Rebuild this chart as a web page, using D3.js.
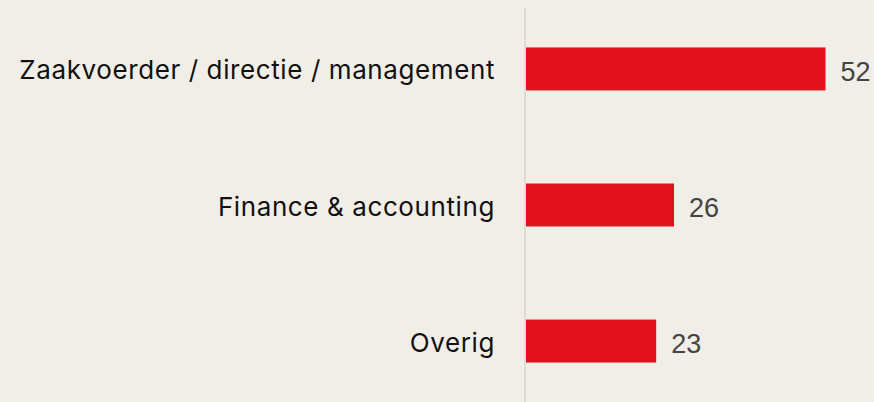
<!DOCTYPE html>
<html>
<head>
<meta charset="utf-8">
<script src="https://cdn.jsdelivr.net/npm/d3@7"></script>
<style>
  html, body { margin: 0; padding: 0; background: #f1eee8; }
  svg { display: block; }
</style>
</head>
<body>
<svg id="chart" width="874" height="402"></svg>
<script>
// chart data (bar lengths, labels are rounded)
let categories = ['Zaakvoerder / directie / management', 'Finance & accounting', 'Overig'];
let values = [52, 25.7, 22.6];

let width = 874;
let height = 402;
let axisX = 525;

let svg = d3.select('#chart');

// scales
let xScale = d3.scaleLinear()
  .domain([0, 52])
  .range([axisX + 1, 825.5]);

let yScale = d3.scaleBand()
  .domain(categories)
  .range([8, height])
  .paddingInner(0.684)
  .paddingOuter(0.29);

let fmt = d3.format('.0f');

let data = categories.map((c, i) => ({ name: c, value: values[i] }));

// vertical axis line
svg.append('line')
  .attr('x1', axisX).attr('x2', axisX)
  .attr('y1', 8).attr('y2', height)
  .attr('stroke', '#d8d5cf')
  .attr('stroke-width', 1.5);

// bars
svg.append('g').selectAll('rect')
  .data(data).enter().append('rect')
  .attr('x', xScale(0))
  .attr('y', d => yScale(d.name))
  .attr('width', d => xScale(d.value) - xScale(0))
  .attr('height', yScale.bandwidth())
  .attr('fill', '#e1121d');

// category labels
svg.append('g').selectAll('text')
  .data(data).enter().append('text')
  .attr('x', 495)
  .attr('y', d => yScale(d.name) + yScale.bandwidth() / 2 + 10.5)
  .attr('text-anchor', 'end')
  .style('font-family', 'Inter, "Noto Sans", sans-serif')
  .style('font-size', '26px')
  .style('letter-spacing', '0.6px')
  .attr('fill', '#111')
  .text(d => d.name);

// value labels
svg.append('g').selectAll('text')
  .data(data).enter().append('text')
  .attr('x', d => xScale(d.value) + 15)
  .attr('y', d => yScale(d.name) + yScale.bandwidth() / 2 + 12.4)
  .style('font-family', '"Liberation Sans", Arial, sans-serif')
  .style('font-size', '27px')
  .attr('fill', '#444')
  .text(d => fmt(d.value));
</script>
</body>
</html>
